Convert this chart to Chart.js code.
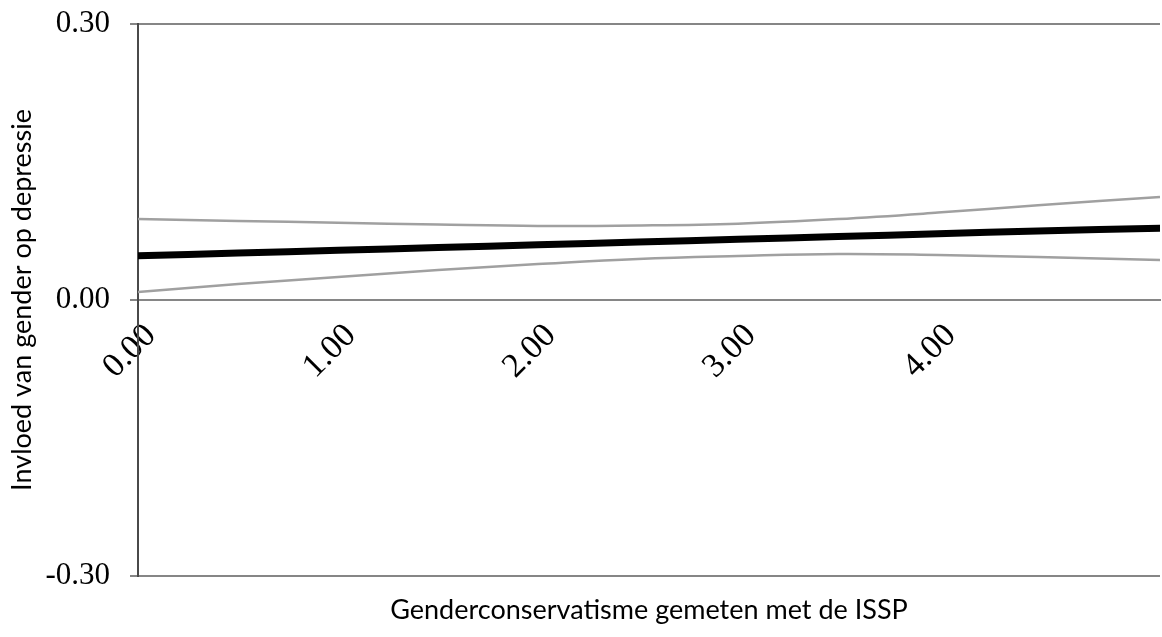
<!DOCTYPE html>
<html>
<head>
<meta charset="utf-8">
<script src="https://cdn.jsdelivr.net/npm/chart.js@4/dist/chart.umd.min.js"></script>
<style>
  html, body { margin: 0; padding: 0; background: #fff; }
  #wrap { width: 1162px; height: 637px; }
</style>
</head>
<body>
<div id="wrap"><canvas id="chart"></canvas></div>
<script>
// values
var xs = [0, 0.5, 1, 1.5, 2, 2.5, 3, 3.5, 4, 4.5, 5.11];
var effect = [0.048, 0.051, 0.054, 0.057, 0.060, 0.063, 0.066, 0.069, 0.072, 0.075, 0.078];
var upper  = [0.088, 0.086, 0.084, 0.082, 0.0805, 0.081, 0.083, 0.088, 0.095, 0.103, 0.112];
var lower  = [0.0087, 0.0174, 0.025, 0.0326, 0.039, 0.0446, 0.0478, 0.050, 0.0489, 0.0467, 0.0435];
var x_ticks = [0, 1, 2, 3, 4];
var y_ticks = [-0.3, 0, 0.3];

var x_title = 'Genderconservatisme gemeten met de ISSP';
var y_title = 'Invloed van gender op depressie';

function pts(ys) {
    var out = [];
    for (var i = 0; i < xs.length; i++) out.push({x: xs[i], y: ys[i]});
    return out;
}

const xTitlePlugin = {
    id: 'xTitle',
    afterDraw(chart) {
        const ctx = chart.ctx;
        const a = chart.chartArea;
        ctx.save();
        ctx.font = '27px Lato';
        ctx.fillStyle = '#000';
        ctx.textAlign = 'center';
        ctx.textBaseline = 'middle';
        ctx.fillText(x_title, (a.left + a.right) / 2, 610);
        ctx.restore();
    }
};

var myChart = new Chart(document.getElementById('chart'), {
    type: 'line',
    data: {
        datasets: [
            {data: pts(effect), borderColor: '#000', borderWidth: 7, borderCapStyle: 'round', order: 0},
            {data: pts(upper), borderColor: '#a0a0a0', borderWidth: 2.5, order: 1},
            {data: pts(lower), borderColor: '#a0a0a0', borderWidth: 2.5, order: 1}
        ]
    },
    options: {
        responsive: true,
        maintainAspectRatio: false,
        animation: false,
        layout: {padding: {top: 24, right: 2, bottom: 61, left: 0}},
        elements: {
            point: {radius: 0},
            line: {tension: 0.4, fill: false}
        },
        plugins: {legend: {display: false}, tooltip: {enabled: false}},
        scales: {
            x: {
                type: 'linear',
                position: {y: 0},
                min: 0,
                max: 5.11,
                afterBuildTicks: function(s) { s.ticks = x_ticks.map(v => ({value: v})); },
                afterFit: function(s) { s.height = 0; s.paddingLeft = 0; s.paddingRight = 0; },
                ticks: {
                    minRotation: 45,
                    maxRotation: 45,
                    padding: 16,
                    labelOffset: 13,
                    autoSkip: false,
                    color: '#000',
                    font: {family: 'Liberation Serif', size: 34},
                    callback: v => Number(v).toFixed(2)
                },
                grid: {display: false, drawTicks: false},
                border: {color: '#868686', width: 2}
            },
            y: {
                min: -0.3,
                max: 0.3,
                afterBuildTicks: function(s) { s.ticks = y_ticks.map(v => ({value: v})); },
                afterFit: function(s) { s.width = 138; s.paddingTop = 0; s.paddingBottom = 0; },
                ticks: {
                    padding: 20,
                    color: '#000',
                    font: {family: 'Liberation Serif', size: 31},
                    callback: v => Number(v).toFixed(2)
                },
                grid: {color: '#868686', lineWidth: 2, tickLength: 8},
                border: {color: '#4a4a4a', width: 2},
                title: {
                    display: true,
                    text: y_title,
                    color: '#000',
                    font: {family: 'Lato', size: 27},
                    padding: {top: 6, bottom: 0}
                }
            }
        }
    },
    plugins: [xTitlePlugin]
});
window.myChart = myChart;
</script>
</body>
</html>
